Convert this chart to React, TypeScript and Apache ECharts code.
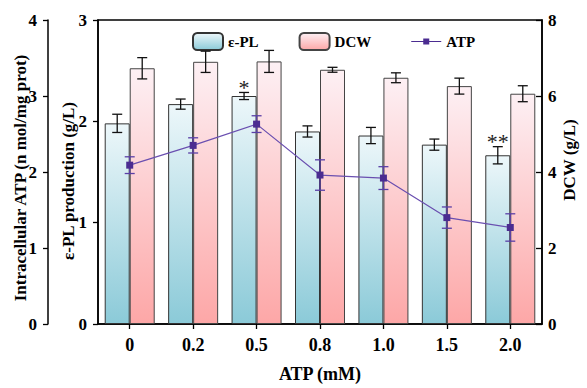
import React, { useEffect, useRef } from "react";
import * as echarts from "echarts";

const categories = ["0", "0.2", "0.5", "0.8", "1.0", "1.5", "2.0"];
const eplValues = [1.98, 2.17, 2.25, 1.9, 1.86, 1.77, 1.665];
const eplErrors = [0.09, 0.05, 0.035, 0.055, 0.08, 0.055, 0.085];
const dcwValues = [6.73, 6.9, 6.91, 6.69, 6.48, 6.26, 6.06];
const dcwErrors = [0.28, 0.28, 0.29, 0.065, 0.13, 0.21, 0.21];
const atpValues = [2.09, 2.35, 2.63, 1.96, 1.92, 1.4, 1.27];
const atpErrors = [0.11, 0.1, 0.11, 0.2, 0.15, 0.14, 0.18];
const significance = ["", "", "*", "", "", "", "**"];

const FONT = "'Times New Roman', 'Liberation Serif', serif";
const BAR_W = 25;
const LINE_ICON =
  "path://M0,8L12,8L12,5.5L18,5.5L18,8L30,8L30,9L18,9L18,11.5L12,11.5L12,9L0,9Z" +
  "M0,0L0.05,0L0.05,0.05Z M29.95,16.95L30,16.95L30,17Z";

function errorSeries(
  name: string,
  values: number[],
  errors: number[],
  yAxisIndex: number,
  offset: number,
  color: string,
  marks?: string[]
) {
  return {
    name,
    type: "custom",
    xAxisIndex: 0,
    yAxisIndex,
    z: 6,
    silent: true,
    data: values.map((v, i) => [i, v, errors[i]]),
    renderItem: (params: any, api: any) => {
      const idx = api.value(0);
      const v = api.value(1);
      const e = api.value(2);
      const top = api.coord([idx, v + e]);
      const bot = api.coord([idx, v - e]);
      const x = top[0] + offset;
      const cap = 5;
      const style = { stroke: color, lineWidth: 1.3 };
      const children: any[] = [
        { type: "line", shape: { x1: x, y1: top[1], x2: x, y2: bot[1] }, style },
        { type: "line", shape: { x1: x - cap, y1: top[1], x2: x + cap, y2: top[1] }, style },
        { type: "line", shape: { x1: x - cap, y1: bot[1], x2: x + cap, y2: bot[1] }, style },
      ];
      if (marks && marks[idx]) {
        children.push({
          type: "text",
          style: {
            text: marks[idx],
            x,
            y: top[1] + 6,
            align: "center",
            verticalAlign: "bottom",
            font: `normal 22px ${FONT}`,
            fill: "#222",
          },
        });
      }
      return { type: "group", children };
    },
  };
}

export default function App() {
  const ref = useRef<HTMLDivElement>(null);
  useEffect(() => {
    if (!ref.current) return;
    const chart = echarts.init(ref.current, undefined, { renderer: "svg" });
    const blueGrad = new echarts.graphic.LinearGradient(0, 0, 0, 1, [
      { offset: 0, color: "#edf7fa" },
      { offset: 1, color: "#8bcad8" },
    ]);
    const pinkGrad = new echarts.graphic.LinearGradient(0, 0, 0, 1, [
      { offset: 0, color: "#fdf0f4" },
      { offset: 1, color: "#fda7a7" },
    ]);
    const axisLine = { show: true, lineStyle: { color: "#000", width: 1.5 } };
    const labelStyle = { color: "#000", fontFamily: FONT, fontWeight: "bold", fontSize: 17 };
    const nameFont = `bold 17px ${FONT}`;
    const option: any = {
      animation: false,
      backgroundColor: "#fff",
      grid: {
        left: 98,
        right: 45,
        top: 20,
        bottom: 58,
        show: true,
        borderColor: "#000",
        borderWidth: 1.5,
        backgroundColor: "transparent",
      },
      legend: {
        left: 187,
        top: 27,
        itemWidth: 30,
        itemHeight: 17,
        itemGap: 40,
        data: ["ε-PL", "DCW", { name: "ATP", icon: LINE_ICON }],
        textStyle: { fontFamily: FONT, fontWeight: "bold", fontSize: 15, color: "#000" },
      },
      xAxis: {
        type: "category",
        data: categories,
        name: "ATP (mM)",
        nameLocation: "middle",
        nameGap: 41,
        nameTextStyle: { fontFamily: FONT, fontWeight: "bold", fontSize: 18, color: "#000" },
        axisLine,
        axisTick: { show: true, alignWithLabel: true, length: 5, lineStyle: { color: "#000", width: 1.3 } },
        axisLabel: { ...labelStyle, fontSize: 18, margin: 12 },
        splitLine: { show: false },
      },
      yAxis: [
        {
          type: "value",
          position: "left",
          min: 0,
          max: 3,
          interval: 1,
          axisLine,
          axisTick: { show: true, length: 5, inside: false, lineStyle: { color: "#000", width: 1.3 } },
          axisLabel: { ...labelStyle, margin: 11 },
          splitLine: { show: false },
        },
        {
          type: "value",
          position: "right",
          min: 0,
          max: 8,
          interval: 2,
          axisLine,
          axisTick: { show: true, length: 6, inside: true, lineStyle: { color: "#000", width: 1.3 } },
          axisLabel: { ...labelStyle, margin: 6 },
          splitLine: { show: false },
        },
        {
          type: "value",
          position: "left",
          offset: 50,
          min: 0,
          max: 4,
          interval: 1,
          axisLine,
          axisTick: { show: true, length: 5, inside: false, lineStyle: { color: "#000", width: 1.3 } },
          axisLabel: { ...labelStyle, margin: 11 },
          splitLine: { show: false },
        },
      ],
      graphic: [
        {
          type: "text",
          x: 20,
          y: 178,
          rotation: Math.PI / 2,
          style: {
            text: "Intracellular ATP (n mol/mg prot)",
            align: "center",
            verticalAlign: "middle",
            font: nameFont,
            fill: "#000",
          },
        },
        {
          type: "text",
          x: 68,
          y: 181,
          rotation: Math.PI / 2,
          style: {
            text: "ε-PL production (g/L)",
            align: "center",
            verticalAlign: "middle",
            font: nameFont,
            fill: "#000",
          },
        },
        {
          type: "text",
          x: 569,
          y: 160,
          rotation: Math.PI / 2,
          style: {
            text: "DCW (g/L)",
            align: "center",
            verticalAlign: "middle",
            font: nameFont,
            fill: "#000",
          },
        },
      ],
      series: [
        {
          name: "ε-PL",
          type: "bar",
          yAxisIndex: 0,
          barWidth: BAR_W,
          barGap: "0%",
          data: eplValues,
          itemStyle: { color: blueGrad, borderColor: "#333", borderWidth: 1 },
        },
        {
          name: "DCW",
          type: "bar",
          yAxisIndex: 1,
          barWidth: BAR_W,
          barGap: "0%",
          data: dcwValues,
          itemStyle: { color: pinkGrad, borderColor: "#444", borderWidth: 1 },
        },
        {
          name: "ATP",
          type: "line",
          yAxisIndex: 2,
          z: 7,
          data: atpValues,
          symbol: "rect",
          symbolSize: 7,
          itemStyle: { color: "#4b2c91" },
          lineStyle: { color: "#6a4fb0", width: 1.2 },
        },
        errorSeries("eplErr", eplValues, eplErrors, 0, -BAR_W / 2, "#111", significance),
        errorSeries("dcwErr", dcwValues, dcwErrors, 1, BAR_W / 2, "#111"),
        errorSeries("atpErr", atpValues, atpErrors, 2, 0, "#5a3fa6"),
      ],
    };
    chart.setOption(option);
    return () => chart.dispose();
  }, []);
  return (
    <div
      ref={ref}
      style={{ position: "fixed", left: 0, top: 0, width: 587, height: 388, background: "#fff" }}
    />
  );
}
